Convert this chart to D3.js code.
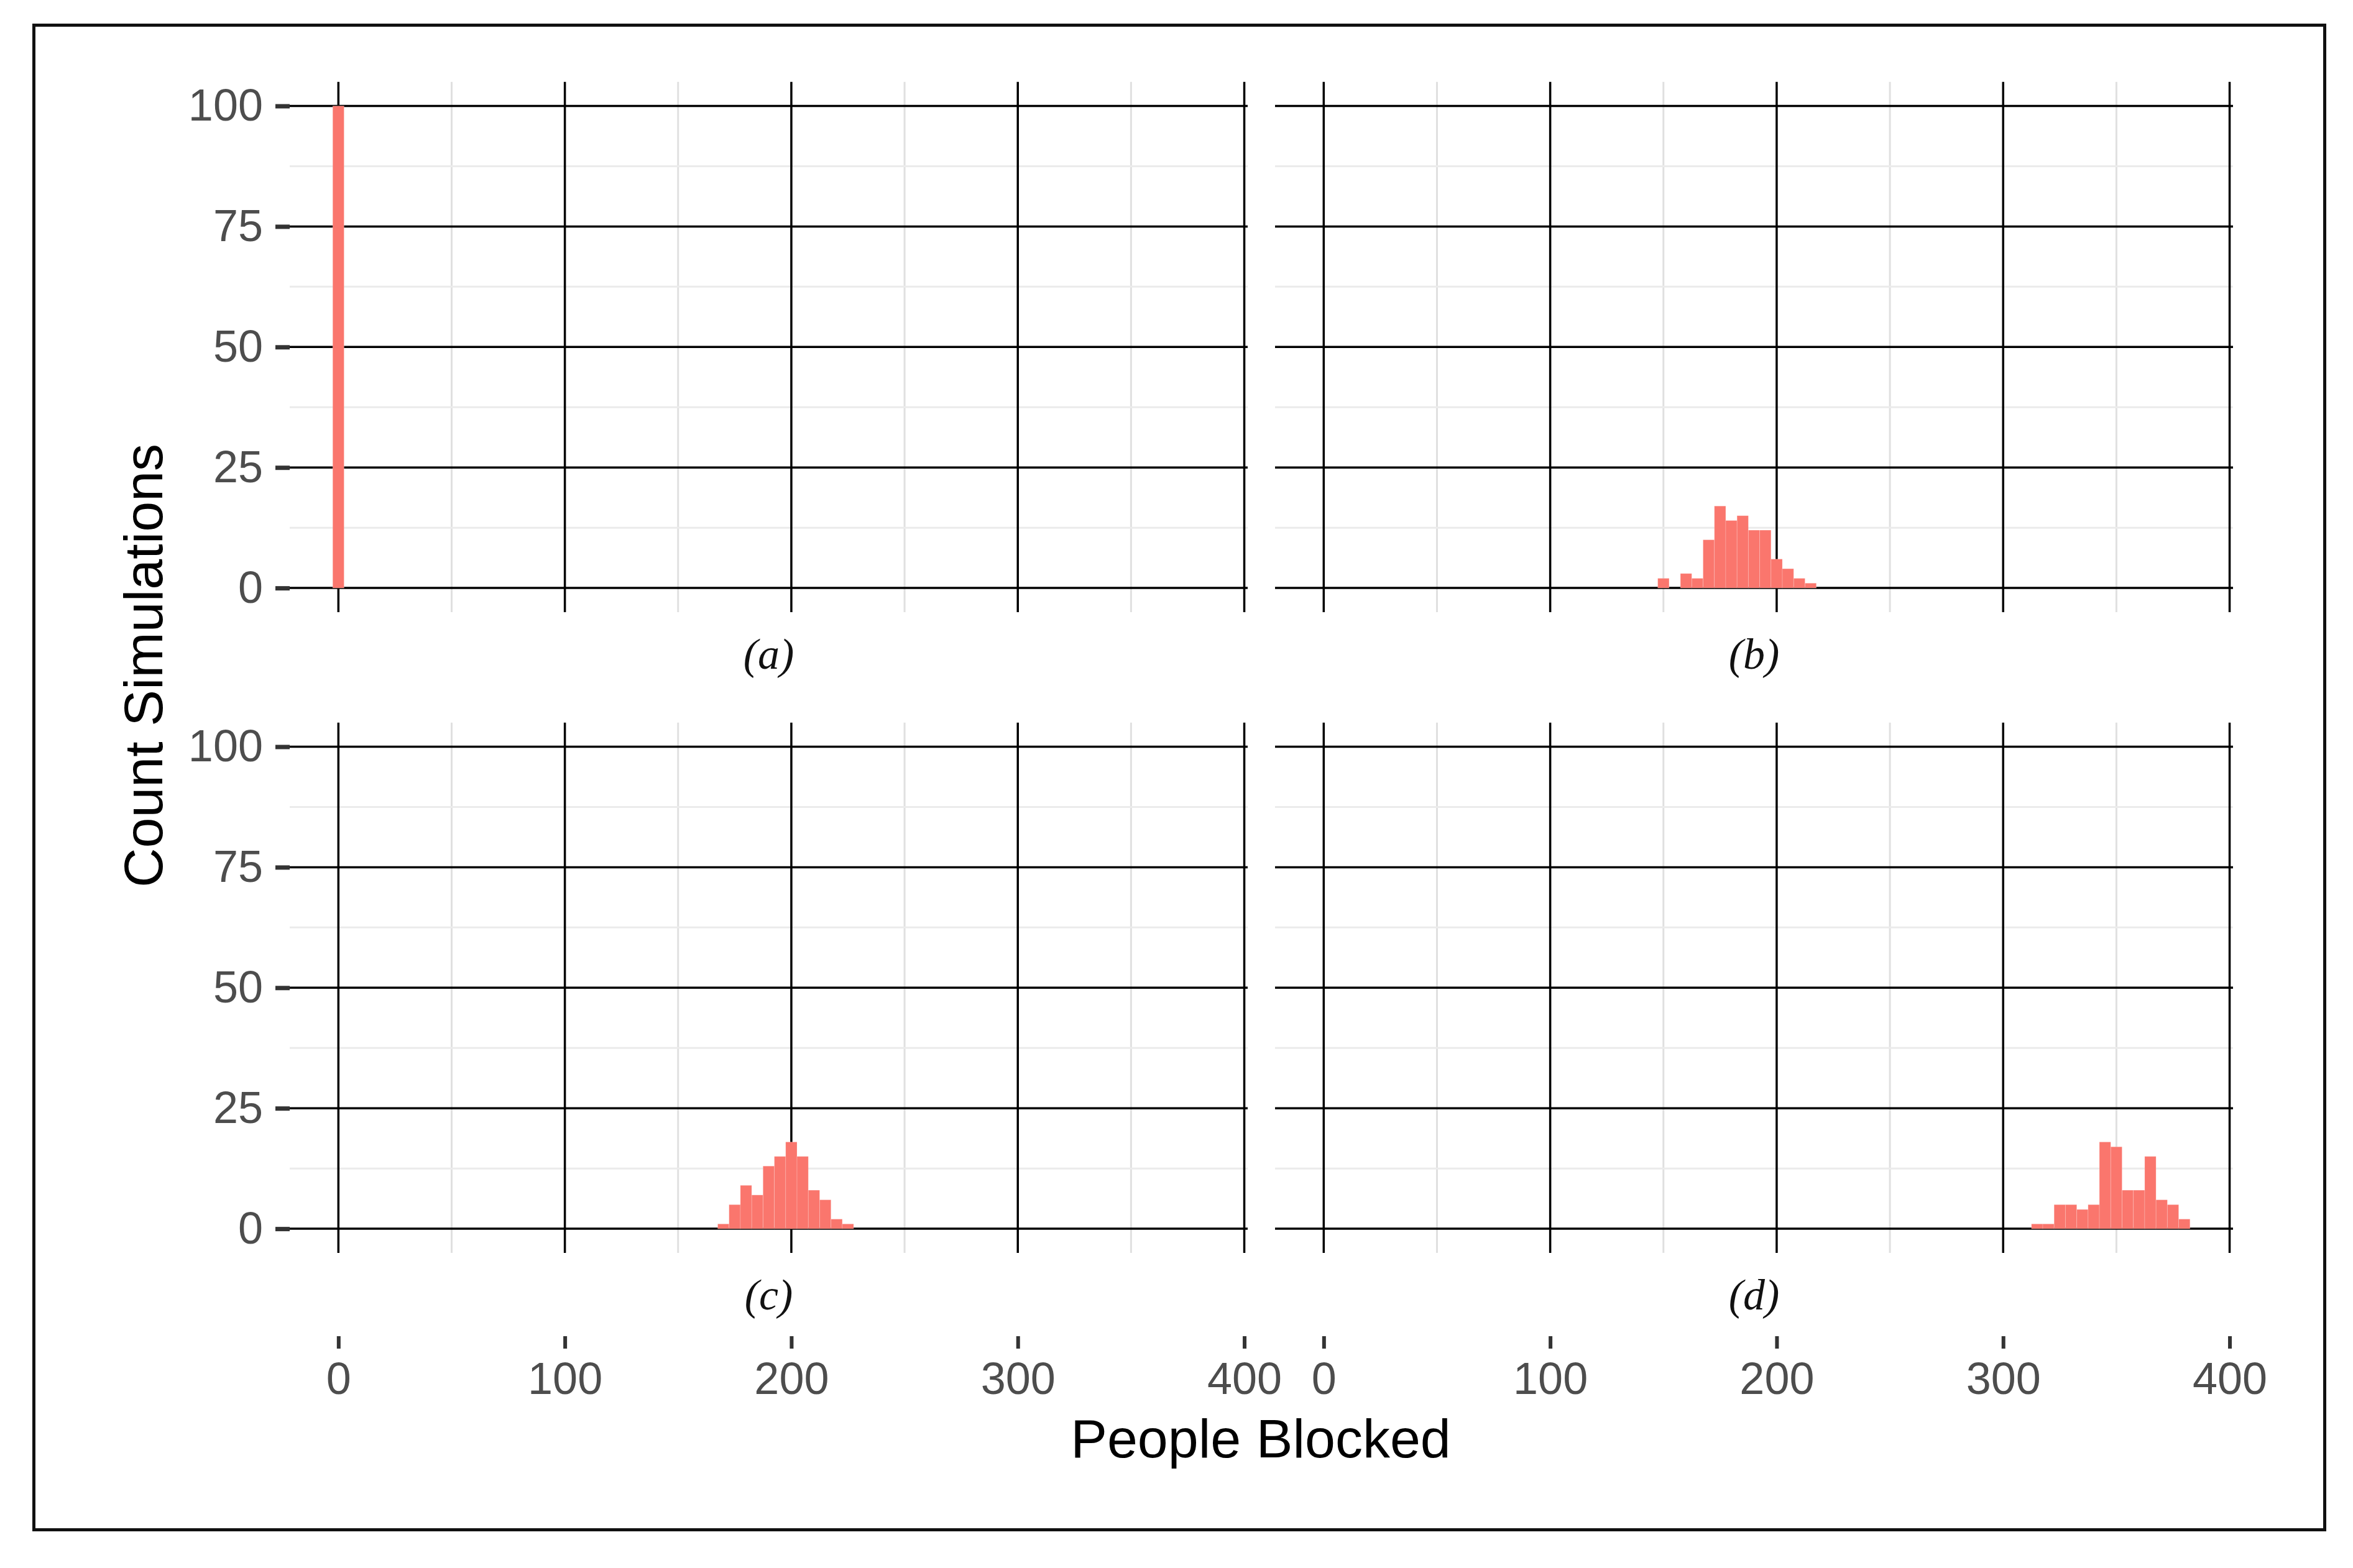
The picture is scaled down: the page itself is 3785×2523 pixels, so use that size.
<!DOCTYPE html>
<html>
<head>
<meta charset="utf-8">
<script src="https://cdn.jsdelivr.net/npm/d3@7"></script>
<style>
  body { margin: 0; background: #fff; }
  svg { display: block; }
</style>
</head>
<body>
<script>
// histogram data: bin centres (width 5) and counts per panel
var binWidth = 5;
var binsA = [0];
var countsA = [100];
var binsB = [150, 155, 160, 165, 170, 175, 180, 185, 190, 195, 200, 205, 210, 215];
var countsB = [2, 0, 3, 2, 10, 17, 14, 15, 12, 12, 6, 4, 2, 1];
var binsC = [170, 175, 180, 185, 190, 195, 200, 205, 210, 215, 220, 225];
var countsC = [1, 5, 9, 7, 13, 15, 18, 15, 8, 6, 2, 1];
var binsD = [315, 320, 325, 330, 335, 340, 345, 350, 355, 360, 365, 370, 375, 380];
var countsD = [1, 1, 5, 5, 4, 5, 18, 17, 8, 8, 15, 6, 5, 2];
var panelLabels = ["(a)", "(b)", "(c)", "(d)"];

var xMajor = [0, 100, 200, 300, 400];
var xMinor = [50, 150, 250, 350];
var yMajor = [0, 25, 50, 75, 100];
var yMinor = [12.5, 37.5, 62.5, 87.5];

var W = 3785, H = 2523;
var svg = d3.select("body").append("svg")
    .attr("width", W)
    .attr("height", H);

var font = "'Liberation Sans', Arial, Helvetica, sans-serif";

// outer frame
svg.append("rect")
    .attr("x", 54.5).attr("y", 40.5)
    .attr("width", 3685).attr("height", 2421)
    .attr("fill", "none")
    .attr("stroke", "#111")
    .attr("stroke-width", 5);

var panelW = 1541;
var lefts = [466, 2051];
var tops = [131.7, 1162.7];
var panelH = 853.2;

var panels = [
    {bins: binsA, counts: countsA, col: 0, row: 0},
    {bins: binsB, counts: countsB, col: 1, row: 0},
    {bins: binsC, counts: countsC, col: 0, row: 1},
    {bins: binsD, counts: countsD, col: 1, row: 1}
];

panels.forEach(function(p, i) {
    var x0 = lefts[p.col], y0 = tops[p.row];
    var x = d3.scaleLinear().domain([-21.5, 401.5]).range([x0, x0 + panelW]);
    var y = d3.scaleLinear().domain([-5, 105]).range([y0 + panelH, y0]);

    var g = svg.append("g").attr("class", "panel");

    // minor grid
    g.selectAll(".vminor").data(xMinor).enter().append("line")
        .attr("x1", function(d) { return x(d); }).attr("x2", function(d) { return x(d); })
        .attr("y1", y0).attr("y2", y0 + panelH)
        .attr("stroke", "#e0e0e0").attr("stroke-width", 3);
    g.selectAll(".hminor").data(yMinor).enter().append("line")
        .attr("x1", x0).attr("x2", x0 + panelW)
        .attr("y1", function(d) { return y(d); }).attr("y2", function(d) { return y(d); })
        .attr("stroke", "#ebebeb").attr("stroke-width", 3);

    // major grid (black)
    g.selectAll(".vmajor").data(xMajor).enter().append("line")
        .attr("x1", function(d) { return x(d); }).attr("x2", function(d) { return x(d); })
        .attr("y1", y0).attr("y2", y0 + panelH)
        .attr("stroke", "#000").attr("stroke-width", 3.5);
    g.selectAll(".hmajor").data(yMajor).enter().append("line")
        .attr("x1", x0).attr("x2", x0 + panelW)
        .attr("y1", function(d) { return y(d); }).attr("y2", function(d) { return y(d); })
        .attr("stroke", "#000").attr("stroke-width", 3.5);

    // bars
    var data = p.bins.map(function(b, k) { return {bin: b, count: p.counts[k]}; })
        .filter(function(d) { return d.count > 0; });
    g.selectAll(".bar").data(data).enter().append("rect")
        .attr("x", function(d) { return x(d.bin - binWidth / 2); })
        .attr("width", function(d) { return x(d.bin + binWidth / 2) - x(d.bin - binWidth / 2); })
        .attr("y", function(d) { return y(d.count); })
        .attr("height", function(d) { return y(0) - y(d.count); })
        .attr("fill", "#FA766D")
        .attr("stroke", "rgba(255,255,255,0.2)")
        .attr("stroke-width", 1);

    // strip label below panel
    svg.append("text")
        .attr("x", x0 + panelW / 2)
        .attr("y", y0 + panelH + 91)
        .attr("text-anchor", "middle")
        .attr("font-family", "'Liberation Serif', 'Times New Roman', serif")
        .attr("font-style", "italic")
        .attr("font-size", 70)
        .attr("fill", "#111")
        .text(panelLabels[i]);

    // y axis on left column
    if (p.col === 0) {
        var ya = svg.append("g")
            .attr("transform", "translate(" + x0 + ",0)")
            .call(d3.axisLeft(y).tickValues(yMajor).tickSize(23).tickPadding(20));
        ya.select(".domain").remove();
        ya.selectAll(".tick line").attr("stroke", "#333").attr("stroke-width", 7);
        ya.selectAll(".tick text")
            .attr("font-family", font).attr("font-size", 72)
            .attr("fill", "#4d4d4d");
    }

    // x axis below the bottom row strips
    if (p.row === 1) {
        var xa = svg.append("g")
            .attr("transform", "translate(0,2150)")
            .call(d3.axisBottom(x).tickValues(xMajor).tickSize(20).tickPadding(22));
        xa.select(".domain").remove();
        xa.selectAll(".tick line").attr("stroke", "#333").attr("stroke-width", 6);
        xa.selectAll(".tick text")
            .attr("font-family", font).attr("font-size", 72)
            .attr("fill", "#4d4d4d");
    }
});

// axis titles
svg.append("text")
    .attr("x", 2028).attr("y", 2345)
    .attr("text-anchor", "middle")
    .attr("font-family", font).attr("font-size", 88)
    .attr("fill", "#000")
    .text("People Blocked");

svg.append("text")
    .attr("transform", "translate(261,1071) rotate(-90)")
    .attr("text-anchor", "middle")
    .attr("font-family", font).attr("font-size", 88)
    .attr("fill", "#000")
    .text("Count Simulations");
</script>
</body>
</html>
